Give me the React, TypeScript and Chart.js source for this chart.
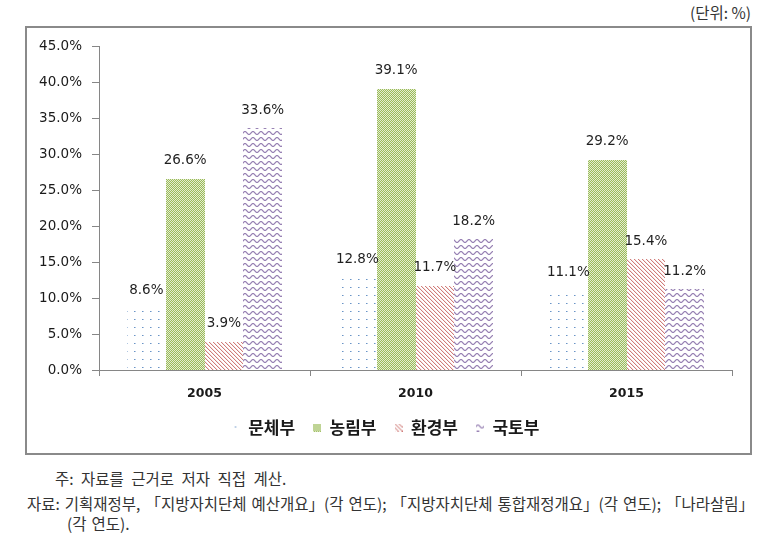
import React, { useEffect, useRef } from "react";
import { Chart, registerables } from "chart.js";

Chart.register(...registerables);

const categories = ["2005", "2010", "2015"];
const seriesNames = ["문체부", "농림부", "환경부", "국토부"];
const munche = [8.6, 12.8, 11.1];
const nongrim = [26.6, 39.1, 29.2];
const hwangyeong = [3.9, 11.7, 15.4];
const gukto = [33.6, 18.2, 11.2];
const yMin = 0;
const yMax = 45;
const yStep = 5;

const unitText = "(단위: %)";
const note1 = "주: 자료를 근거로 저자 직접 계산.";
const note2 = "자료: 기획재정부, 「지방자치단체 예산개요」(각 연도); 「지방자치단체 통합재정개요」(각 연도); 「나라살림」";
const note3 = "(각 연도).";

type RGBA = [number, number, number, number];

function hexToRgba(hex: string, a = 255): RGBA {
  const h = hex.replace("#", "");
  return [parseInt(h.slice(0, 2), 16), parseInt(h.slice(2, 4), 16), parseInt(h.slice(4, 6), 16), a];
}

function tileCanvas(w: number, h: number, pix: (x: number, y: number) => RGBA): HTMLCanvasElement {
  const c = document.createElement("canvas");
  c.width = w;
  c.height = h;
  const ctx = c.getContext("2d");
  if (!ctx) return c;
  const img = ctx.createImageData(w, h);
  for (let y = 0; y < h; y++) {
    for (let x = 0; x < w; x++) {
      const p = pix(x, y);
      const k = (y * w + x) * 4;
      img.data[k] = p[0];
      img.data[k + 1] = p[1];
      img.data[k + 2] = p[2];
      img.data[k + 3] = p[3];
    }
  }
  ctx.putImageData(img, 0, 0);
  return c;
}

function mix(a: RGBA, b: RGBA, t: number): RGBA {
  return [
    Math.round(a[0] + (b[0] - a[0]) * t),
    Math.round(a[1] + (b[1] - a[1]) * t),
    Math.round(a[2] + (b[2] - a[2]) * t),
    255,
  ];
}

const WHITE: RGBA = [255, 255, 255, 255];

function makeTiles() {
  const blue = hexToRgba("#4f81bd");
  const green = hexToRgba("#9bbb59");
  const greenLight = hexToRgba("#e4edd2");
  const red = hexToRgba("#c0504d");
  const purple = hexToRgba("#8064a2");
  const dots = tileCanvas(8, 8, (x, y) => {
    if (x === 3 && y === 3) return mix(WHITE, blue, 0.85);
    if (x === 4 && y === 3) return mix(WHITE, blue, 0.45);
    return WHITE;
  });
  const checker = tileCanvas(2, 2, (x, y) => ((x + y) % 2 === 0 ? green : greenLight));
  const diag = tileCanvas(4, 4, (x, y) => {
    if (x === y) return mix(WHITE, red, 0.75);
    if ((x - y + 4) % 4 === 1) return mix(WHITE, red, 0.15);
    return WHITE;
  });
  const wave = tileCanvas(8, 6, (x, y) => {
    const cy = 2.5 - 1.5 * Math.sin((2 * Math.PI * (x + 0.5)) / 8);
    const d = Math.abs(y - cy);
    if (d < 0.5) return mix(WHITE, purple, 0.8);
    if (d < 1.1) return mix(WHITE, purple, 0.3);
    return WHITE;
  });
  return [dots, checker, diag, wave];
}

function legendIcon(tile: HTMLCanvasElement, w: number, h: number): HTMLCanvasElement {
  const c = document.createElement("canvas");
  c.width = w;
  c.height = h;
  const ctx = c.getContext("2d");
  if (ctx) {
    const p = ctx.createPattern(tile, "repeat");
    if (p) {
      ctx.fillStyle = p;
      ctx.fillRect(0, 0, w, h);
    }
  }
  return c;
}

function ChartBox() {
  const ref = useRef<HTMLCanvasElement | null>(null);
  useEffect(() => {
    if (!ref.current) return;
    const tiles = makeTiles();
    const icons = [
      legendIcon(tiles[0], 8, 8),
      legendIcon(tiles[1], 8, 8),
      legendIcon(tiles[2], 8, 8),
      legendIcon(tiles[3], 8, 8),
    ];
    const series = [munche, nongrim, hwangyeong, gukto];

    const patternBarsPlugin = {
      id: "patternBars",
      afterDatasetsDraw(chart: any) {
        const ctx: CanvasRenderingContext2D = chart.ctx;
        ctx.save();
        ctx.globalAlpha = 1;
        ctx.globalCompositeOperation = "source-over";
        chart.data.datasets.forEach((ds: any, di: number) => {
          const meta = chart.getDatasetMeta(di);
          const pat = ctx.createPattern(tiles[di], "repeat");
          if (!pat) return;
          ctx.fillStyle = pat;
          meta.data.forEach((el: any) => {
            const x0 = Math.round(el.x - el.width / 2);
            const x1 = Math.round(el.x + el.width / 2);
            const y0 = Math.round(el.y);
            const y1 = Math.round(el.base);
            ctx.fillRect(x0, y0, x1 - x0, y1 - y0);
          });
        });
        ctx.font = "13.5px 'DejaVu Sans'";
        ctx.fillStyle = "#1f1f1f";
        ctx.textAlign = "center";
        ctx.textBaseline = "middle";
        chart.data.datasets.forEach((ds: any, di: number) => {
          const meta = chart.getDatasetMeta(di);
          meta.data.forEach((el: any, i: number) => {
            const v = ds.data[i] as number;
            ctx.fillText(v.toFixed(1) + "%", el.x, el.y - 18);
          });
        });
        ctx.restore();
      },
    };

    const legendShiftPlugin = {
      id: "legendShift",
      afterLayout(chart: any) {
        const lg = chart.legend;
        if (lg) {
          lg.left += 6;
          lg.right += 6;
        }
      },
    };

    const chart = new Chart(ref.current, {
      type: "bar",
      data: {
        labels: categories,
        datasets: series.map((d, i) => ({
          label: seriesNames[i],
          data: d,
          backgroundColor: "rgba(0,0,0,0)",
          borderWidth: 0,
          barPercentage: 1,
          categoryPercentage: 0.735,
          pointStyle: icons[i] as any,
        })),
      },
      options: {
        responsive: false,
        animation: false,
        layout: { padding: { left: 0, right: 18, top: 17, bottom: 7 } },
        plugins: {
          legend: {
            position: "bottom",
            labels: {
              usePointStyle: true,
              boxWidth: 8,
              boxHeight: 8,
              padding: 18,
              color: "#1a1a1a",
              font: { family: "'Noto Sans CJK KR'", size: 17, weight: "bold" },
              generateLabels: (chart: any) =>
                chart.data.datasets.map((ds: any, i: number) => ({
                  text: ds.label,
                  fillStyle: "rgba(0,0,0,0)",
                  strokeStyle: "rgba(0,0,0,0)",
                  lineWidth: 0,
                  pointStyle: icons[i],
                  hidden: false,
                  datasetIndex: i,
                  fontColor: "#1a1a1a",
                })),
            },
          },
          tooltip: { enabled: false },
        },
        scales: {
          x: {
            afterFit: (s: any) => {
              s.height = 31;
            },
            grid: { display: true, drawOnChartArea: false, drawTicks: true, tickLength: 6, color: "#868686", offset: true },
            border: { display: true, color: "#868686", width: 1 },
            ticks: { color: "#1a1a1a", padding: 10, font: { family: "'DejaVu Sans'", size: 12.5, weight: "bold" } },
          },
          y: {
            min: yMin,
            max: yMax,
            afterFit: (s: any) => {
              s.width = 72;
            },
            grid: { display: true, drawOnChartArea: false, drawTicks: true, tickLength: 7, color: "#868686" },
            border: { display: true, color: "#868686", width: 1 },
            ticks: {
              stepSize: yStep,
              padding: 10,
              color: "#1a1a1a",
              font: { family: "'DejaVu Sans'", size: 13.5 },
              callback: (v: any) => Number(v).toFixed(1) + "%",
            },
          },
        },
      },
      plugins: [patternBarsPlugin, legendShiftPlugin],
    });
    return () => chart.destroy();
  }, []);
  return <canvas ref={ref} width={723} height={425} style={{ display: "block" }} />;
}

export default function App() {
  const noteStyle: React.CSSProperties = {
    position: "absolute",
    fontFamily: "'Noto Sans CJK KR'",
    fontSize: 15.5,
    color: "#333",
    whiteSpace: "pre",
    lineHeight: "18px",
  };
  return (
    <div style={{ position: "absolute", left: 0, top: 0, width: 765, height: 542, background: "#fff", overflow: "hidden" }}>
      <div style={{ ...noteStyle, right: 14, top: 3 }}>{unitText}</div>
      <div
        style={{
          position: "absolute",
          left: 25,
          top: 26,
          width: 727,
          height: 429,
          boxSizing: "border-box",
          border: "2px solid #8a8a8a",
        }}
      >
        <ChartBox />
      </div>
      <div style={{ ...noteStyle, left: 55, top: 469, wordSpacing: 4 }}>{note1}</div>
      <div style={{ ...noteStyle, left: 27, top: 494, wordSpacing: 1.5 }}>{note2}</div>
      <div style={{ ...noteStyle, left: 67, top: 514, wordSpacing: 1.5 }}>{note3}</div>
    </div>
  );
}
